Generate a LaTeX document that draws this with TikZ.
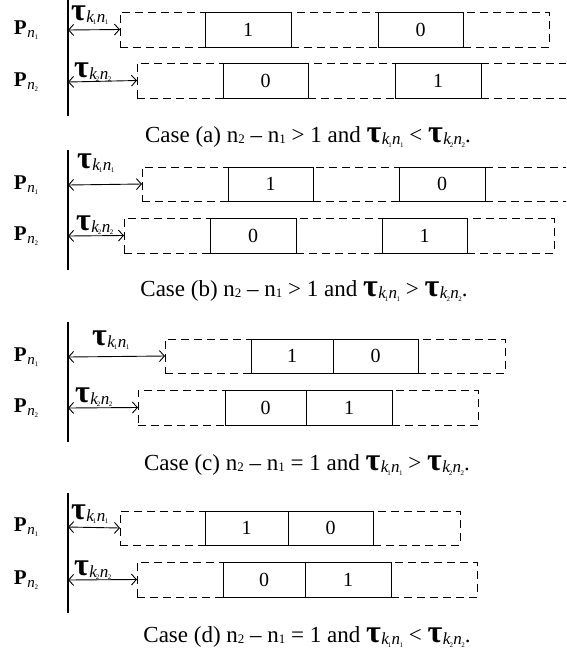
\documentclass[tikz,border=0pt]{standalone}
\usepackage{fontspec}
\setmainfont{Liberation Serif}
\usetikzlibrary{arrows.meta}
\newcommand\tlab[2]{{\fontsize{32}{32}\selectfont\bfseries\raisebox{0pt}[14pt][0pt]{τ}}\kern0.5pt\raisebox{-2pt}{\fontsize{17}{17}\selectfont\itshape k\kern-1pt\raisebox{-2.5pt}{\fontsize{7}{7}\selectfont\upshape #1}\kern0.3pt n\kern-0.5pt\raisebox{-2.5pt}{\fontsize{7}{7}\selectfont\upshape #2}}}
\newcommand\plab[1]{{\fontsize{21}{21}\selectfont\bfseries P}\kern0.5pt\raisebox{-3pt}{\fontsize{15}{15}\selectfont\itshape n\kern-0.3pt\raisebox{-2.5pt}{\fontsize{7}{7}\selectfont\upshape #1}}}
\newcommand\capn[1]{n\raisebox{-0.5pt}{\fontsize{13}{13}\selectfont #1}}
\newcommand\slot[7]{%
 \pgfmathsetmacro\sw{#4-#3}\pgfmathsetmacro\sh{#6-#5}%
 \pgfmathsetmacro\sx{(#3+#4)/2}\pgfmathsetmacro\sy{(#5+#6)/2}%
 \node[#1,minimum width=\sw pt,minimum height=\sh pt] (#2) at (\sx,\sy) {#7};}
\tikzset{
 dbox/.style={draw,dash pattern=on 8pt off 5pt,line width=0.8pt,inner sep=0pt,outer sep=0pt},
 sbox/.style={draw,line width=0.9pt,inner sep=0pt,outer sep=0pt,fill=white,font=\fontsize{20}{20}\selectfont},
 dline/.style={dash pattern=on 8pt off 5pt,line width=0.8pt},
 vline/.style={line width=1.1pt},
 dur/.style={{Straight Barb[length=5pt,width=11pt]}-{Straight Barb[length=5pt,width=11pt]},line width=0.9pt},
 plabel/.style={inner sep=0pt},
 tlabel/.style={inner sep=0pt,anchor=base west},
 caption/.style={inner sep=0pt,font=\fontsize{23}{23}\selectfont}
}
\begin{document}
\begin{tikzpicture}[x=1pt,y=-1pt]
\useasboundingbox (0,0) rectangle (566,657);
% ---------- Case (a)
\coordinate (aT) at (68,0); \coordinate (aB) at (68,116);
\draw[vline] (aT) -- (aB);
\slot{dbox}{a1d1}{120}{205}{12}{47}{}
\slot{dbox}{a1d2}{291}{378}{12}{47}{}
\slot{dbox}{a1d3}{463}{549}{12}{47}{}
\slot{sbox}{a1s1}{205}{291}{12}{47}{1}
\slot{sbox}{a1s2}{378}{463}{12}{47}{0}
\slot{dbox}{a2d1}{137}{223}{63}{98}{}
\slot{dbox}{a2d2}{308}{395}{63}{98}{}
\coordinate (a2e1) at (566,63); \coordinate (a2e2) at (566,98);
\draw[dline] (481,63) -- (a2e1) (481,98) -- (a2e2);
\slot{sbox}{a2s1}{223}{308}{63}{98}{0}
\slot{sbox}{a2s2}{395}{481}{63}{98}{1}
\coordinate (a1o) at (68,30); \coordinate (a2o) at (68,82);
\draw[dur] (a1o) -- (a1d1.west);
\draw[dur] (a2o) -- (a2d1.west);
\node[tlabel] (a1t) at (71,20) {\tlab{1}{1}};
\node[tlabel] (a2t) at (74,77) {\tlab{2}{2}};
\node[plabel] (a1p) at (26,30) {\plab{1}};
\node[plabel] (a2p) at (26,82) {\plab{2}};
\node[caption] (acap) at (308,137) {Case (a) \capn{2} – \capn{1} > 1 and \tlab{1}{1} < \tlab{2}{2}.};
% ---------- Case (b)
\coordinate (bT) at (68,150); \coordinate (bB) at (68,270);
\draw[vline] (bT) -- (bB);
\slot{dbox}{b1d1}{142}{228}{167}{201}{}
\slot{dbox}{b1d2}{313}{399}{167}{201}{}
\coordinate (b1e1) at (566,167); \coordinate (b1e2) at (566,201);
\draw[dline] (485,167) -- (b1e1) (485,201) -- (b1e2);
\slot{sbox}{b1s1}{228}{313}{167}{201}{1}
\slot{sbox}{b1s2}{399}{485}{167}{201}{0}
\slot{dbox}{b2d1}{124}{210}{218}{253}{}
\slot{dbox}{b2d2}{296}{382}{218}{253}{}
\slot{dbox}{b2d3}{467}{554}{218}{253}{}
\slot{sbox}{b2s1}{210}{296}{218}{253}{0}
\slot{sbox}{b2s2}{382}{467}{218}{253}{1}
\coordinate (b1o) at (68,185); \coordinate (b2o) at (68,236);
\draw[dur] (b1o) -- (b1d1.west);
\draw[dur] (b2o) -- (b2d1.west);
\node[tlabel] (b1t) at (77,168) {\tlab{1}{1}};
\node[tlabel] (b2t) at (76,230) {\tlab{2}{2}};
\node[plabel] (b1p) at (26,185) {\plab{1}};
\node[plabel] (b2p) at (26,236) {\plab{2}};
\node[caption] (bcap) at (304,291) {Case (b) \capn{2} – \capn{1} > 1 and \tlab{1}{1} > \tlab{2}{2}.};
% ---------- Case (c)
\coordinate (cT) at (68,322); \coordinate (cB) at (68,442);
\draw[vline] (cT) -- (cB);
\slot{dbox}{c1d1}{165}{251}{339}{373}{}
\slot{dbox}{c1d2}{418}{505}{339}{373}{}
\slot{sbox}{c1s1}{251}{333}{339}{373}{1}
\slot{sbox}{c1s2}{333}{418}{339}{373}{0}
\slot{dbox}{c2d1}{138}{225}{390}{425}{}
\slot{dbox}{c2d2}{392}{478}{390}{425}{}
\slot{sbox}{c2s1}{225}{306}{390}{425}{0}
\slot{sbox}{c2s2}{306}{392}{390}{425}{1}
\coordinate (c1o) at (68,357); \coordinate (c2o) at (68,408);
\draw[dur] (c1o) -- (c1d1.west);
\draw[dur] (c2o) -- (c2d1.west);
\node[tlabel] (c1t) at (92,345) {\tlab{1}{1}};
\node[tlabel] (c2t) at (75,402) {\tlab{2}{2}};
\node[plabel] (c1p) at (26,357) {\plab{1}};
\node[plabel] (c2p) at (26,408) {\plab{2}};
\node[caption] (ccap) at (307,465) {Case (c) \capn{2} – \capn{1} = 1 and \tlab{1}{1} > \tlab{2}{2}.};
% ---------- Case (d)
\coordinate (dT) at (68,493); \coordinate (dB) at (68,613);
\draw[vline] (dT) -- (dB);
\slot{dbox}{d1d1}{120}{205}{511}{545}{}
\slot{dbox}{d1d2}{373}{460}{511}{545}{}
\slot{sbox}{d1s1}{205}{288}{511}{545}{1}
\slot{sbox}{d1s2}{288}{373}{511}{545}{0}
\slot{dbox}{d2d1}{137}{223}{562}{597}{}
\slot{dbox}{d2d2}{391}{477}{562}{597}{}
\slot{sbox}{d2s1}{223}{305}{562}{597}{0}
\slot{sbox}{d2s2}{305}{391}{562}{597}{1}
\coordinate (d1o) at (68,527); \coordinate (d2o) at (68,580);
\draw[dur] (d1o) -- (d1d1.west);
\draw[dur] (d2o) -- (d2d1.west);
\node[tlabel] (d1t) at (71,519) {\tlab{1}{1}};
\node[tlabel] (d2t) at (74,575) {\tlab{2}{2}};
\node[plabel] (d1p) at (26,527) {\plab{1}};
\node[plabel] (d2p) at (26,580) {\plab{2}};
\node[caption] (dcap) at (307,637) {Case (d) \capn{2} – \capn{1} = 1 and \tlab{1}{1} < \tlab{2}{2}.};
\end{tikzpicture}
\end{document}
